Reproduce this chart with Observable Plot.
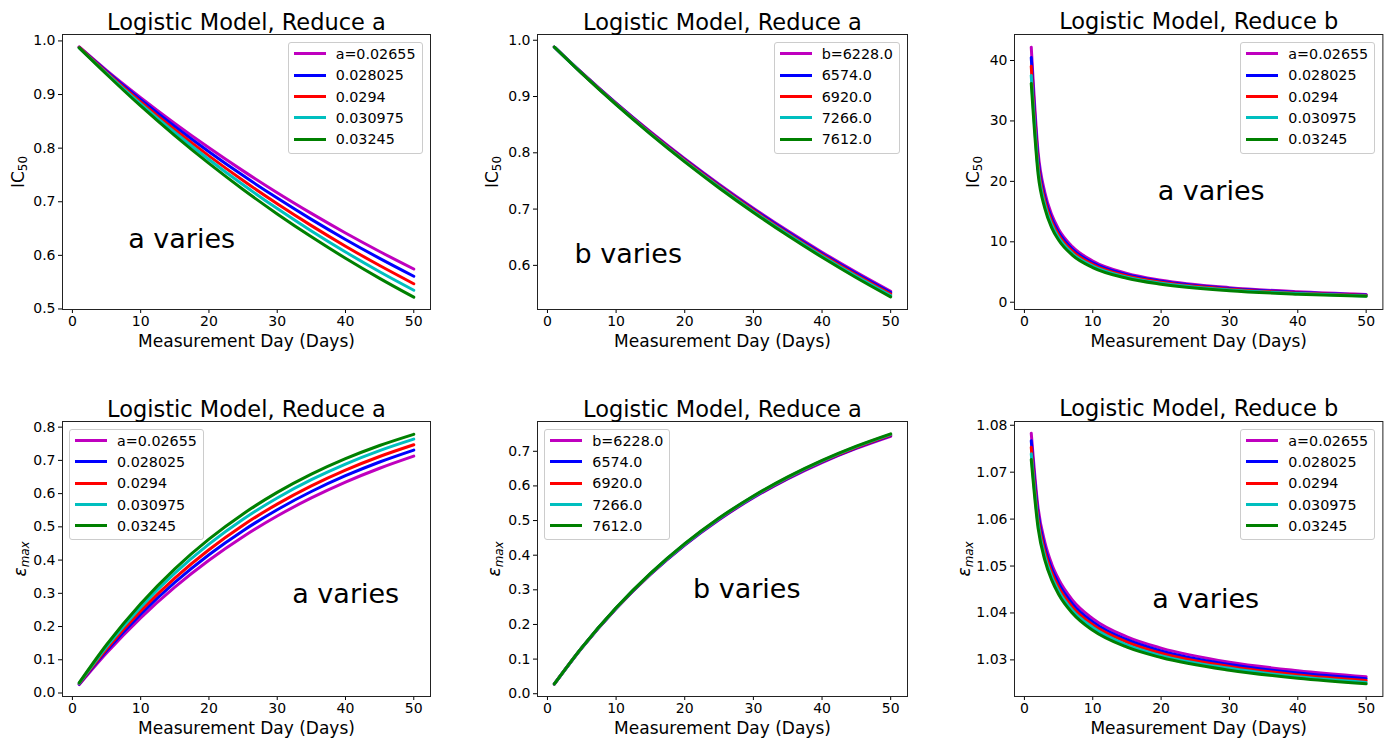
<!DOCTYPE html>
<html><head><meta charset="utf-8">
<script src="https://cdn.jsdelivr.net/npm/d3@7"></script>
<script src="https://cdn.jsdelivr.net/npm/@observablehq/plot@0.6"></script>
<style>
body{margin:0;background:#fff;}
#root{position:relative;width:1388px;height:738px;overflow:hidden;font-family:"DejaVu Sans",sans-serif;background:#fff;color:#000;}
.panel{position:absolute;}
.legend{position:absolute;background:rgba(255,255,255,0.8);border:1px solid #cccccc;border-radius:3px;padding:0 6px 3px 5px;box-sizing:border-box;font-size:14.3px;width:max-content;}
.row{display:flex;align-items:center;height:21.3px;white-space:nowrap;}
.sw{width:32px;height:3px;margin-right:10px;}
.ylab{position:absolute;font-size:17px;line-height:1;transform:translate(-50%,-50%) rotate(-90deg);white-space:nowrap;}
.ylab sub{font-size:0.7em;vertical-align:-0.25em;}
</style></head><body><div id="root"></div>
<script>
// ---------- data ----------
const days = [1, 5, 10, 15, 20, 25, 30, 35, 40, 45, 50];
const daysFine = [1, 2, 3, 4, 5, 7, 10, 15, 20, 30, 40, 50];
const xTicks = [0, 10, 20, 30, 40, 50];
const aLabels = ["a=0.02655", "0.028025", "0.0294", "0.030975", "0.03245"];
const bLabels = ["b=6228.0", "6574.0", "6920.0", "7266.0", "7612.0"];
const seriesColors = ["#bf00bf", "#0000ff", "#ff0000", "#00bfbf", "#008000"];
const titles = ["Logistic Model, Reduce a", "Logistic Model, Reduce a", "Logistic Model, Reduce b",
                "Logistic Model, Reduce a", "Logistic Model, Reduce a", "Logistic Model, Reduce b"];
const xLabel = "Measurement Day (Days)";
const notes = ["a varies", "b varies", "a varies", "a varies", "b varies", "a varies"];
const noteDay = [8.17, 3.94, 19.5, 32.2, 21.2, 18.7];
const noteValue = [0.614, 0.6036, 16.9, 0.271, 0.2757, 1.041];

// IC50, Reduce a, a varies
const ic50_A_a = [
  [0.989, 0.9452, 0.8943, 0.8462, 0.8007, 0.7576, 0.7168, 0.6783, 0.6417, 0.6072, 0.5745],
  [0.988, 0.9434, 0.8905, 0.8405, 0.7934, 0.7488, 0.7068, 0.6671, 0.6297, 0.5944, 0.561],
  [0.988, 0.9414, 0.8863, 0.8344, 0.7856, 0.7396, 0.6963, 0.6555, 0.6171, 0.5810, 0.547],
  [0.987, 0.9397, 0.8827, 0.8292, 0.7789, 0.7316, 0.6872, 0.6455, 0.6063, 0.5695, 0.535],
  [0.987, 0.9379, 0.8787, 0.8234, 0.7715, 0.7228, 0.6773, 0.6346, 0.5946, 0.5571, 0.522]
];
// IC50, Reduce a, b varies
const ic50_A_b = [
  [0.988, 0.9424, 0.8884, 0.8375, 0.7895, 0.7442, 0.7015, 0.6613, 0.6234, 0.5877, 0.554],
  [0.988, 0.9421, 0.8877, 0.8364, 0.7881, 0.7426, 0.6997, 0.6592, 0.6212, 0.5853, 0.5515],
  [0.988, 0.9417, 0.8869, 0.8353, 0.7867, 0.7409, 0.6978, 0.6572, 0.6189, 0.5829, 0.549],
  [0.988, 0.9414, 0.8862, 0.8342, 0.7853, 0.7393, 0.6959, 0.6551, 0.6167, 0.5805, 0.5465],
  [0.988, 0.9410, 0.8854, 0.8331, 0.7839, 0.7376, 0.6940, 0.6530, 0.6144, 0.5781, 0.544]
];
// IC50, Reduce b, a varies (daysFine)
const ic50_B_a = [
  [42.21, 24.82, 18.12, 14.45, 12.10, 9.21, 6.83, 4.78, 3.65, 2.41, 1.73, 1.30],
  [40.50, 23.80, 17.37, 13.84, 11.58, 8.81, 6.52, 4.55, 3.46, 2.27, 1.62, 1.21],
  [39.03, 22.93, 16.72, 13.32, 11.14, 8.46, 6.25, 4.35, 3.30, 2.15, 1.52, 1.13],
  [37.53, 22.04, 16.06, 12.79, 10.69, 8.10, 5.98, 4.15, 3.14, 2.03, 1.43, 1.04],
  [36.21, 21.25, 15.48, 12.32, 10.29, 7.79, 5.74, 3.97, 2.99, 1.92, 1.34, 0.97]
];
// eps_max, Reduce a, a varies
const emax_A_a = [
  [0.0254, 0.1204, 0.2262, 0.3187, 0.3996, 0.4705, 0.5326, 0.5870, 0.6346, 0.6763, 0.7128],
  [0.0268, 0.1268, 0.2371, 0.3329, 0.4162, 0.4886, 0.5516, 0.6063, 0.6538, 0.6952, 0.7311],
  [0.0281, 0.1326, 0.2471, 0.3459, 0.4312, 0.5049, 0.5685, 0.6234, 0.6708, 0.7117, 0.7470],
  [0.0296, 0.1392, 0.2584, 0.3605, 0.4479, 0.5228, 0.5870, 0.6419, 0.6890, 0.7293, 0.7639],
  [0.0310, 0.1453, 0.2688, 0.3738, 0.4631, 0.5390, 0.6036, 0.6585, 0.7051, 0.7448, 0.7785]
];
// eps_max, Reduce a, b varies
const emax_A_b = [
  [0.0280, 0.1320, 0.2459, 0.3443, 0.4292, 0.5025, 0.5658, 0.6204, 0.6676, 0.7083, 0.7435],
  [0.0280, 0.1323, 0.2465, 0.3451, 0.4302, 0.5037, 0.5671, 0.6219, 0.6692, 0.7100, 0.7452],
  [0.0281, 0.1326, 0.2471, 0.3459, 0.4312, 0.5049, 0.5685, 0.6234, 0.6708, 0.7117, 0.7470],
  [0.0282, 0.1329, 0.2477, 0.3467, 0.4322, 0.5061, 0.5698, 0.6248, 0.6723, 0.7133, 0.7487],
  [0.0282, 0.1332, 0.2482, 0.3475, 0.4332, 0.5073, 0.5711, 0.6263, 0.6739, 0.7150, 0.7505]
];
// eps_max, Reduce b, a varies (daysFine)
const emax_B_a = [
  [1.0783, 1.0624, 1.0550, 1.0504, 1.0472, 1.0428, 1.0388, 1.0349, 1.0325, 1.0295, 1.0277, 1.0264],
  [1.0767, 1.0612, 1.0539, 1.0494, 1.0463, 1.0420, 1.0381, 1.0343, 1.0319, 1.0290, 1.0272, 1.0260],
  [1.0753, 1.0601, 1.0530, 1.0486, 1.0455, 1.0413, 1.0375, 1.0338, 1.0314, 1.0286, 1.0268, 1.0256],
  [1.0739, 1.0590, 1.0520, 1.0477, 1.0447, 1.0406, 1.0369, 1.0332, 1.0309, 1.0282, 1.0264, 1.0252],
  [1.0727, 1.0581, 1.0512, 1.0470, 1.0440, 1.0400, 1.0363, 1.0327, 1.0305, 1.0278, 1.0261, 1.0249]
];
const yTicksIC50A = [0.5, 0.6, 0.7, 0.8, 0.9, 1.0];
const yTicksIC50Ab = [0.6, 0.7, 0.8, 0.9, 1.0];
const yTicksIC50B = [0, 10, 20, 30, 40];
const yTicksEmaxA = [0, 0.1, 0.2, 0.3, 0.4, 0.5, 0.6, 0.7, 0.8];
const yTicksEmaxAb = [0, 0.1, 0.2, 0.3, 0.4, 0.5, 0.6, 0.7];
const yTicksEmaxB = [1.03, 1.04, 1.05, 1.06, 1.07, 1.08];

// ---------- layout ----------
const IC = "IC<sub>50</sub>";
const EM = "<i>ε</i><sub><i>max</i></sub>";
const panels = [
  {x: days, s: ic50_A_a, lab: aLabels, yl: IC, dom: [0.499, 1.012], ticks: yTicksIC50A, fmt: ".1f", f: [62, 34.3, 430, 309.3], leg: "r", ylx: 19.5},
  {x: days, s: ic50_A_b, lab: bLabels, yl: IC, dom: [0.5216, 1.0102], ticks: yTicksIC50Ab, fmt: ".1f", f: [537.3, 34.3, 907.3, 309.3], leg: "r", ylx: 494},
  {x: daysFine, s: ic50_B_a, lab: aLabels, yl: IC, dom: [-1.2, 44.3], ticks: yTicksIC50B, fmt: "d", f: [1014.3, 34.3, 1382.7, 309.3], leg: "r", ylx: 975},
  {x: days, s: emax_A_a, lab: aLabels, yl: EM, dom: [-0.0105, 0.817], ticks: yTicksEmaxA, fmt: ".1f", f: [62, 421, 430, 696], leg: "l", ylx: 21.5},
  {x: days, s: emax_A_b, lab: bLabels, yl: EM, dom: [-0.008, 0.786], ticks: yTicksEmaxAb, fmt: ".1f", f: [537.3, 421, 907.3, 696], leg: "l", ylx: 496},
  {x: daysFine, s: emax_B_a, lab: aLabels, yl: EM, dom: [1.0222, 1.0808], ticks: yTicksEmaxB, fmt: ".2f", f: [1014.3, 421, 1382.7, 696], leg: "r", ylx: 965.5}
];

const root = document.getElementById("root");
const mL = 62, mT = 34, mR = 6, mB = 42;

panels.forEach((p, k) => {
  const [fl, ft, fr, fb] = p.f;
  const W = fr - fl + mL + mR, H = fb - ft + mT + mB;
  const rows = [];
  p.s.forEach((vals, i) => vals.forEach((v, j) => rows.push({day: p.x[j], value: v, series: p.lab[i]})));
  const chart = Plot.plot({
    width: W, height: H,
    marginLeft: mL, marginRight: mR, marginTop: mT, marginBottom: mB,
    style: {fontFamily: "DejaVu Sans", fontSize: "14px", background: "transparent", color: "#000", overflow: "visible"},
    x: {domain: [-1.45, 52.45], ticks: xTicks, tickFormat: "d", tickSize: 4, tickPadding: 3, label: null},
    y: {domain: p.dom, ticks: p.ticks, tickFormat: p.fmt, tickSize: 4, tickPadding: 3, label: null},
    color: {domain: p.lab, range: seriesColors},
    marks: [
      Plot.line(rows, {x: "day", y: "value", z: "series", stroke: "series", strokeWidth: 3, curve: "monotone-x"}),
      Plot.frame({stroke: "#222", strokeWidth: 1}),
      Plot.text([{day: noteDay[k], value: noteValue[k], t: notes[k]}], {x: "day", y: "value", text: "t", textAnchor: "start", lineAnchor: "bottom", fontSize: 27, fill: "#000"}),
      Plot.text([titles[k]], {text: d => d, frameAnchor: "top", lineAnchor: "bottom", dy: -5, fontSize: 22.5, fill: "#000"}),
      Plot.text([xLabel], {text: d => d, frameAnchor: "bottom", lineAnchor: "bottom", dy: 37.5, fontSize: 17, fill: "#000"})
    ]
  });
  chart.classList.add("panel");
  chart.style.left = (fl - mL) + "px";
  chart.style.top = (ft - mT) + "px";
  root.appendChild(chart);

  const yl = document.createElement("div");
  yl.className = "ylab";
  yl.innerHTML = p.yl;
  yl.style.left = p.ylx + "px";
  yl.style.top = ((ft + fb) / 2) + "px";
  root.appendChild(yl);

  const leg = document.createElement("div");
  leg.className = "legend";
  leg.style.top = (ft + 8) + "px";
  if (p.leg === "r") leg.style.right = (1388 - (fr - 7.5)) + "px";
  else leg.style.left = (fl + 7) + "px";
  p.lab.forEach((l, i) => {
    const r = document.createElement("div");
    r.className = "row";
    const sw = document.createElement("div");
    sw.className = "sw";
    sw.style.background = seriesColors[i];
    const tx = document.createElement("span");
    tx.textContent = l;
    r.appendChild(sw); r.appendChild(tx);
    leg.appendChild(r);
  });
  root.appendChild(leg);
});
</script></body></html>
